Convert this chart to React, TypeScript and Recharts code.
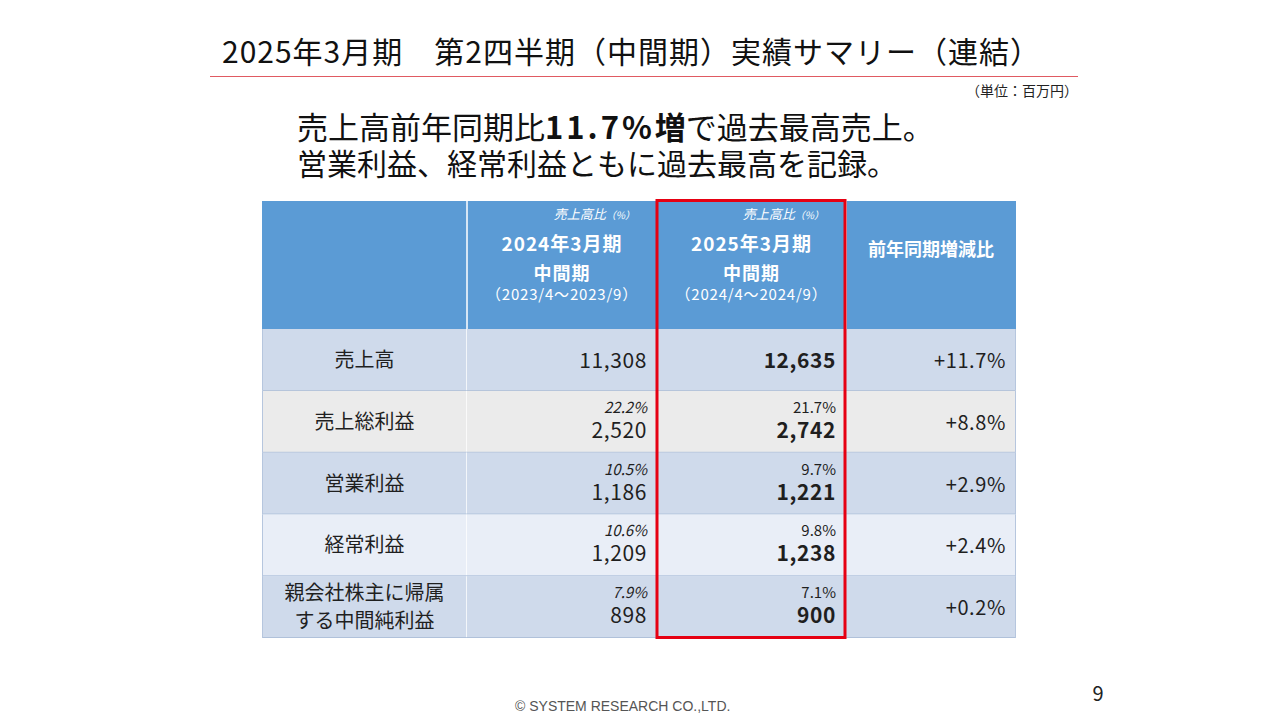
import { BarChart, Bar, XAxis, YAxis } from 'recharts';

// table content
const items = ['売上高', '売上総利益', '営業利益', '経常利益', '親会社株主に帰属\nする中間純利益'];
const prevValues = [11308, 2520, 1186, 1209, 898];
const prevRatios = [null, 22.2, 10.5, 10.6, 7.9];
const currValues = [12635, 2742, 1221, 1238, 900];
const currRatios = [null, 21.7, 9.7, 9.8, 7.1];
const growth = [11.7, 8.8, 2.9, 2.4, 0.2];

const prevPeriod = ['2024年3月期', '中間期', '（2023/4～2023/9）'];
const currPeriod = ['2025年3月期', '中間期', '（2024/4～2024/9）'];

// layout
const COLS = [205, 190, 189, 170];
const TABLE_X = 262;
const HEADER_Y = 201;
const HEADER_H = 128;
const BODY_H = 309;
const TOTAL_W = COLS.reduce((a, b) => a + b, 0);
const ROW_FILLS = ['#cfdaeb', '#ebebeb', '#cfdaeb', '#e9eef7', '#cfdaeb'];
const HEAD_BLUE = '#5b9bd5';
const FONT = '"Noto Sans CJK JP", "Noto Sans", sans-serif';
const INK = '#1f1f1f';

const fmt = (v: number) => v.toLocaleString('en-US');

const chartRows = items.map((item, i) => ({
  item,
  row: i,
  w1: COLS[0],
  w2: COLS[1],
  w3: COLS[2],
  w4: COLS[3],
}));

function makeCell(col: number) {
  return (props: any) => {
    const { x, y, width, height, payload } = props;
    const i = payload.row;
    const cy = y + height / 2;
    const right = x + width - 10;
    let content: any = null;

    if (col === 0) {
      const lines = items[i].split('\n');
      content =
        lines.length === 1 ? (
          <text x={x + width / 2} y={cy + 7} textAnchor="middle" fontSize={20} fill={INK} fontFamily={FONT}>
            {lines[0]}
          </text>
        ) : (
          <text x={x + width / 2} y={cy - 7} textAnchor="middle" fontSize={20} fill={INK} fontFamily={FONT}>
            <tspan x={x + width / 2}>{lines[0]}</tspan>
            <tspan x={x + width / 2} dy={28}>{lines[1]}</tspan>
          </text>
        );
    } else if (col === 1 || col === 2) {
      const ratio = col === 1 ? prevRatios[i] : currRatios[i];
      const value = col === 1 ? prevValues[i] : currValues[i];
      const weight = col === 2 ? 'bold' : 'normal';
      content =
        ratio !== null ? (
          <text x={right} y={cy - 9} textAnchor="end" fill={INK} fontFamily={FONT}>
            <tspan x={right} fontSize={15} fontStyle={col === 1 ? 'italic' : 'normal'}>
              {ratio.toFixed(1)}%
            </tspan>
            <tspan x={right} dy={25} fontSize={21} fontWeight={weight} letterSpacing={0.6}>
              {fmt(value)}
            </tspan>
          </text>
        ) : (
          <text
            x={right}
            y={cy + 8}
            textAnchor="end"
            fill={INK}
            fontFamily={FONT}
            fontSize={21}
            fontWeight={weight}
            letterSpacing={0.6}
          >
            {fmt(value)}
          </text>
        );
    } else {
      content = (
        <text x={right} y={cy + 8} textAnchor="end" fontSize={20} fill={INK} fontFamily={FONT} letterSpacing={0.6}>
          +{growth[i].toFixed(1)}%
        </text>
      );
    }

    return (
      <g>
        <rect x={x} y={y} width={width} height={height} fill={ROW_FILLS[i]} />
        {col < 3 && <line x1={x + width} x2={x + width} y1={y} y2={y + height} stroke="#ffffff" strokeWidth={1.5} />}
        <line x1={x} x2={x + width} y1={y + height - 0.5} y2={y + height - 0.5} stroke="#a9bcd7" strokeWidth={1} />
        {col === 0 && <line x1={x + 0.5} x2={x + 0.5} y1={y} y2={y + height} stroke="#b6c6de" strokeWidth={1} />}
        {col === 3 && <line x1={x + width - 0.5} x2={x + width - 0.5} y1={y} y2={y + height} stroke="#b6c6de" strokeWidth={1} />}
        {content}
      </g>
    );
  };
}

function Header() {
  const edges = COLS.reduce<number[]>((acc, w) => [...acc, acc[acc.length - 1] + w], [TABLE_X]);
  const periodBlock = (lines: string[], left: number, width: number) => {
    const cx = left + width / 2;
    return (
      <g fill="#ffffff" fontFamily={FONT}>
        <text x={left + width - 22} y={HEADER_Y + 18} textAnchor="end" fontSize={13} fontStyle="italic">
          売上高比<tspan fontSize={10}>（%）</tspan>
        </text>
        <text x={cx} y={HEADER_Y + 50} textAnchor="middle" fontWeight="bold" letterSpacing={1}>
          <tspan x={cx} fontSize={19}>{lines[0]}</tspan>
          <tspan x={cx} dy={29} fontSize={18}>{lines[1]}</tspan>
          <tspan x={cx} dy={20} fontSize={15} fontWeight="normal" letterSpacing={0.8}>{lines[2]}</tspan>
        </text>
      </g>
    );
  };
  return (
    <g>
      <rect x={TABLE_X} y={HEADER_Y} width={TOTAL_W} height={HEADER_H} fill={HEAD_BLUE} />
      {edges.slice(1, 4).map((ex) => (
        <line key={ex} x1={ex} x2={ex} y1={HEADER_Y} y2={HEADER_Y + HEADER_H} stroke="#ffffff" strokeWidth={1.5} />
      ))}
      {periodBlock(prevPeriod, edges[1], COLS[1])}
      {periodBlock(currPeriod, edges[2], COLS[2])}
      <text
        x={edges[3] + COLS[3] / 2}
        y={HEADER_Y + 55}
        textAnchor="middle"
        fontSize={18}
        fontWeight="bold"
        fill="#ffffff"
        fontFamily={FONT}
      >
        前年同期増減比
      </text>
    </g>
  );
}

export default function App() {
  const bodyTop = HEADER_Y + HEADER_H;
  const boxLeft = TABLE_X + COLS[0] + COLS[1];
  return (
    <div style={{ position: 'absolute', left: 0, top: 0, width: 1280, height: 720, background: '#ffffff', overflow: 'hidden' }}>
      <svg width={1280} height={720} style={{ position: 'absolute', left: 0, top: 0 }}>
        <text x={222} y={63} fontSize={30} fill="#111111" fontFamily={FONT} letterSpacing={1}>
          2025年3月期　第2四半期（中間期）実績サマリー（連結）
        </text>
        <line x1={210} x2={1078} y1={76.5} y2={76.5} stroke="#e05a62" strokeWidth={1.2} />
        <text x={1078} y={96} textAnchor="end" fontSize={14} fill="#222222" fontFamily={FONT}>
          （単位：百万円）
        </text>
        <text x={297} y={139} fill="#111111" fontFamily={FONT}>
          <tspan x={297} fontSize={31}>売上高前年同期比</tspan>
          <tspan fontSize={31} fontWeight="bold" letterSpacing={3}>11.7%</tspan>
          <tspan fontSize={31} fontWeight="bold">増</tspan>
          <tspan fontSize={31}>で過去最高売上。</tspan>
          <tspan x={297} dy={36} fontSize={30}>営業利益、経常利益ともに過去最高を記録。</tspan>
        </text>
        <Header />
        <text x={515} y={711} fontSize={14} fill="#555555" fontFamily='"Liberation Sans", Arial, sans-serif'>
          © SYSTEM RESEARCH CO.,LTD.
        </text>
        <text x={1098} y={701} textAnchor="middle" fontSize={20} fill="#222222" fontFamily={FONT}>
          9
        </text>
      </svg>
      <div style={{ position: 'absolute', left: TABLE_X, top: bodyTop }}>
        <BarChart
          width={TOTAL_W}
          height={BODY_H}
          data={chartRows}
          layout="vertical"
          margin={{ top: 0, right: 0, bottom: 0, left: 0 }}
          barCategoryGap={0}
          barGap={0}
        >
          <XAxis type="number" domain={[0, TOTAL_W]} hide />
          <YAxis type="category" dataKey="item" hide />
          <Bar dataKey="w1" stackId="t" isAnimationActive={false} shape={makeCell(0)} />
          <Bar dataKey="w2" stackId="t" isAnimationActive={false} shape={makeCell(1)} />
          <Bar dataKey="w3" stackId="t" isAnimationActive={false} shape={makeCell(2)} />
          <Bar dataKey="w4" stackId="t" isAnimationActive={false} shape={makeCell(3)} />
        </BarChart>
      </div>
      <svg width={1280} height={720} style={{ position: 'absolute', left: 0, top: 0, pointerEvents: 'none' }}>
        <rect x={boxLeft} y={200.5} width={COLS[2] - 1} height={437} fill="none" stroke="#e60012" strokeWidth={3} />
      </svg>
    </div>
  );
}
